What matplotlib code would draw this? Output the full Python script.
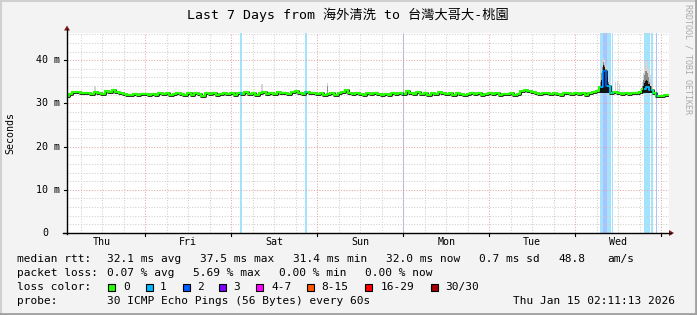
import numpy as np
import matplotlib
matplotlib.use('Agg')
import matplotlib.pyplot as plt
from matplotlib.patches import Rectangle, Polygon
from matplotlib.lines import Line2D

W, H = 697, 315

# ---------------- data ----------------
hours = list(range(169))  # hours since Thu Jan 8 02:11
median_ms = [
    31.7, 32.2, 32.7, 32.6, 32.3, 32.5, 32.4, 32.2, 32.6, 32.5, 32.2, 32.9, 32.7, 33.1, 32.6, 32.4,
    32.2, 31.9, 32.0, 32.2, 32.0, 32.1, 32.1, 31.9, 32.2, 32.0, 32.3, 32.1, 32.4, 32.0, 32.2, 32.5,
    32.1, 31.9, 32.3, 32.0, 32.4, 32.2, 31.8, 32.3, 32.1, 32.4, 32.0, 32.2, 32.5, 32.1, 32.3, 32.0,
    32.4, 32.2, 32.6, 32.2, 32.4, 32.0, 32.3, 32.6, 32.1, 32.4, 32.2, 32.7, 32.3, 32.5, 32.1, 32.6,
    32.8, 32.4, 32.2, 32.6, 32.3, 32.5, 32.1, 32.3, 32.0, 32.2, 32.4, 32.0, 32.3, 32.7, 33.0, 32.4,
    32.1, 32.4, 32.2, 32.0, 32.3, 32.1, 32.4, 32.2, 31.9, 32.2, 32.0, 32.3, 32.1, 32.4, 32.2, 32.8,
    32.5, 32.2, 32.6, 32.1, 32.3, 32.0, 32.4, 32.2, 32.6, 32.3, 32.1, 32.4, 32.0, 32.3, 32.1, 31.9,
    32.2, 32.4, 32.1, 32.3, 32.0, 32.2, 32.4, 32.1, 32.3, 32.0, 32.2, 32.1, 32.3, 32.0, 32.2, 32.9,
    33.1, 32.8, 32.6, 32.4, 32.2, 32.5, 32.3, 32.1, 32.4, 32.2, 32.0, 32.3, 32.5, 32.2, 32.4, 32.1,
    32.3, 32.0, 32.4, 32.6, 32.8, 33.8, 37.5, 34.0, 32.5, 32.6, 32.3, 32.1, 32.5, 32.2, 32.4, 32.3,
    32.6, 33.4, 33.8, 33.2, 32.4, 31.8, 31.7, 32.0, 32.0,
]

day_labels = ['Thu', 'Fri', 'Sat', 'Sun', 'Mon', 'Tue', 'Wed']
first_midnight_h = 21.82          # Fri 00:00 relative to start
y_ticks_ms = [0, 10, 20, 30, 40]
y_tick_labels = ['0', '10 m', '20 m', '30 m', '40 m']

# loss periods: (start hour, end hour, lost pings)
loss_start = [48.3, 66.5, 93.7, 148.7, 149.7, 150.7, 152.1, 160.9, 163.1, 164.4]
loss_end   = [48.8, 67.0, 94.05, 149.7, 150.7, 151.7, 152.4, 162.7, 163.45, 164.75]
loss_count = [1, 1, 2, 1, 2, 1, 1, 1, 1, 2]

# smoke (spread of the 30 pings) where visible
smoke_h    = [7.8, 54.4, 72.6, 148.9, 149.2, 149.5, 149.8, 150.1, 150.4, 150.7, 151.0, 151.3, 151.6,
              153.1, 153.7, 154.2, 160.6, 160.9, 161.2, 161.5, 161.8, 162.1, 162.4, 162.7, 163.0, 163.3]
smoke_top  = [34.0, 34.4, 34.8, 36.5, 38.5, 40.0, 40.4, 40.0, 39.0, 37.5, 36.0, 35.0, 34.0,
              35.0, 35.2, 34.5, 35.0, 37.0, 38.5, 39.5, 39.8, 39.5, 38.0, 36.5, 35.0, 34.0]
smoke_mid  = [0, 0, 34.0, 35.0, 37.0, 38.5, 39.5, 39.0, 38.0, 36.5, 35.0, 34.0, 33.2,
              0, 0, 0, 34.0, 35.5, 36.5, 37.5, 37.5, 37.0, 36.0, 35.0, 34.0, 33.4]
smoke_core = [0, 0, 0, 34.0, 35.5, 37.5, 39.0, 38.5, 37.5, 36.0, 34.5, 33.5, 32.8,
              0, 0, 0, 33.0, 34.0, 34.8, 35.3, 35.5, 35.2, 34.6, 34.0, 33.3, 33.0]

loss_classes = ['0', '1', '2', '3', '4-7', '8-15', '16-29', '30/30']
loss_colors  = ['#26ff00', '#00b8ff', '#0059ff', '#7e00ff', '#ff00ff', '#ff5500', '#ff0000', '#a10000']
loss_bar_colors = {1: '#a3e3fd', 2: '#a9c3fe'}

title = 'Last 7 Days from 海外清洗 to 台灣大哥大-桃園'
legend_rows = [
    [(16.7, 'median rtt:'), (107, '32.1 ms avg'), (200, '37.5 ms max'), (293, '31.4 ms min'),
     (386, '32.0 ms now'), (479, '0.7 ms sd'), (558, '48.8'), (607, 'am/s')],
    [(16.7, 'packet loss:'), (107, '0.07 % avg'), (193, '5.69 % max'), (279, '0.00 % min'),
     (365, '0.00 % now')],
]
probe_text = '30 ICMP Echo Pings (56 Bytes) every 60s'
stamp_text = 'Thu Jan 15 02:11:13 2026'

# ---------------- figure ----------------
MONO = 'DejaVu Sans Mono'
fig = plt.figure(figsize=(W / 100, H / 100), dpi=100, facecolor='#f3f3f3')

def fx(x):
    return x / W

def fy(y):
    return 1 - y / H

L, R, T, B = 67, 669, 33, 233
ax = fig.add_axes([fx(L), fy(B), (R - L) / W, (B - T) / H])
ax.set_facecolor('white')
ax.set_xlim(0, 168)
ax.set_ylim(0, 46.3)
for s in ax.spines.values():
    s.set_visible(False)
ax.set_xticks([])
ax.set_yticks([])

# loss bars
for s0, s1, c in zip(loss_start, loss_end, loss_count):
    ax.axvspan(s0, s1, color=loss_bar_colors[c], lw=0, zorder=1)

# grid
dot = (0, (1, 1.6))
for v in range(2, 47, 2):
    if v % 10:
        ax.axhline(v, color='#cfcfcf', lw=0.75, ls=dot, zorder=2)
for v in range(10, 47, 10):
    ax.axhline(v, color='#e4a6a6', lw=0.75, ls=dot, zorder=2)
g = first_midnight_h - 24
while g < 168:
    for k in range(4):
        xv = g + 6 * k
        if 0 < xv < 168:
            if k == 0:
                ax.axvline(xv, color='#e4a6a6', lw=0.75, ls=dot, zorder=2)
            else:
                ax.axvline(xv, color='#cfcfcf', lw=0.75, ls=dot, zorder=2)
    g += 24

# smoke
med_at = np.interp(smoke_h, hours, median_ms)
for h, m, t, mi in zip(smoke_h, med_at, smoke_top, smoke_mid):
    ax.bar(h, t - m + 0.3, bottom=m - 0.3, width=0.33, color='#d4d4d4', lw=0, zorder=3)
    if mi > m:
        ax.bar(h, mi - m + 0.3, bottom=m - 0.3, width=0.33, color='#8a8a8a', lw=0, zorder=3)

# median (green, recoloured where packets were lost)
ax.plot(hours, median_ms, color='#1a1a1a', lw=2.1, drawstyle='steps-mid', zorder=4)
ax.plot(hours, median_ms, color='#26ff00', lw=1.6, drawstyle='steps-mid', zorder=5)

# dense smoke core over the median in the spikes
for h, co in zip(smoke_h, smoke_core):
    if co > 0:
        ax.bar(h, co - 32.4, bottom=32.4, width=0.33, color='#141414', lw=0, zorder=5.5)

for s0, s1, c in zip(loss_start, loss_end, loss_count):
    ln, = ax.plot(hours, median_ms, color=loss_colors[c], lw=1.3, drawstyle='steps-mid', zorder=6)
    clip = Rectangle((s0, 0), s1 - s0, 50, transform=ax.transData)
    ln.set_clip_path(clip)

# axes lines, ticks, arrows
fig.add_artist(Line2D([fx(L), fx(L)], [fy(B + 0.5), fy(29)], color='black', lw=1))
fig.add_artist(Line2D([fx(L - 4), fx(671)], [fy(B), fy(B)], color='black', lw=1))
fig.add_artist(Polygon([[fx(64), fy(30.5)], [fx(70), fy(30.5)], [fx(67), fy(25.5)]],
                       closed=True, color='#8b1a1a', lw=0))
fig.add_artist(Polygon([[fx(669), fy(230)], [fx(669), fy(236)], [fx(674), fy(233)]],
                       closed=True, color='#8b1a1a', lw=0))

ppm = (B - T) / 46.3
for v, lab in zip(y_ticks_ms, y_tick_labels):
    yp = B - v * ppm
    fig.add_artist(Line2D([fx(L - 3), fx(L)], [fy(yp), fy(yp)], color='black', lw=0.8))
    xr = 60 if lab != '0' else 48
    fig.text(fx(xr), fy(yp), lab, ha='right', va='center', fontsize=7.2, family=MONO, color='black')

ppx = (R - L) / 168
for k in range(7):
    xm = L + (first_midnight_h + 24 * k) * ppx
    if xm <= R:
        fig.add_artist(Line2D([fx(xm), fx(xm)], [fy(B), fy(B + 3)], color='black', lw=0.8))
    xn = L + (first_midnight_h - 12 + 24 * k) * ppx
    fig.text(fx(xn), fy(242), day_labels[k], ha='center', va='center', fontsize=7.2, family=MONO)

fig.text(fx(10), fy(133), 'Seconds', rotation=90, ha='center', va='center', fontsize=7.2, family=MONO)

fig.text(fx(348), fy(15), title, ha='center', va='center', fontsize=9.5,
         family=[MONO, 'Noto Sans CJK SC'])
fig.text(fx(688), fy(4), 'RRDTOOL / TOBI OETIKER', rotation=270, ha='center', va='top',
         fontsize=6, family=MONO, color='#aaaaaa')

# legend
row_y = [259, 273, 287, 301]
for yy, row in zip(row_y, legend_rows):
    for xx, s in row:
        fig.text(fx(xx), fy(yy), s, ha='left', va='center', fontsize=8, family=MONO)

fig.text(fx(16.7), fy(row_y[2]), 'loss color:', ha='left', va='center', fontsize=8, family=MONO)
box_x = [108, 146, 183, 219, 256, 307, 365, 431]
lab_x = [123, 160, 197, 233, 271, 321, 381, 445]
for bx, lx, c, lab in zip(box_x, lab_x, loss_colors, loss_classes):
    fig.add_artist(Rectangle((fx(bx), fy(row_y[2] + 3.5)), 7 / W, 7 / H, facecolor=c,
                             edgecolor='black', lw=0.8))
    fig.text(fx(lx), fy(row_y[2]), lab, ha='left', va='center', fontsize=8, family=MONO)

fig.text(fx(16.7), fy(row_y[3]), 'probe:', ha='left', va='center', fontsize=8, family=MONO)
fig.text(fx(107), fy(row_y[3]), probe_text, ha='left', va='center', fontsize=8, family=MONO)
fig.text(fx(513), fy(row_y[3]), stamp_text, ha='left', va='center', fontsize=8, family=MONO)

# outer frame
fig.add_artist(Line2D([0, 1], [fy(0.5), fy(0.5)], color='#d0d0d0', lw=1.5))
fig.add_artist(Line2D([fx(0.5), fx(0.5)], [0, 1], color='#d0d0d0', lw=1.5))
fig.add_artist(Line2D([0, 1], [fy(H - 1), fy(H - 1)], color='#a0a0a0', lw=2))
fig.add_artist(Line2D([fx(W - 1), fx(W - 1)], [0, 1], color='#a0a0a0', lw=2))

fig.savefig('out.png', dpi=100, facecolor=fig.get_facecolor())
